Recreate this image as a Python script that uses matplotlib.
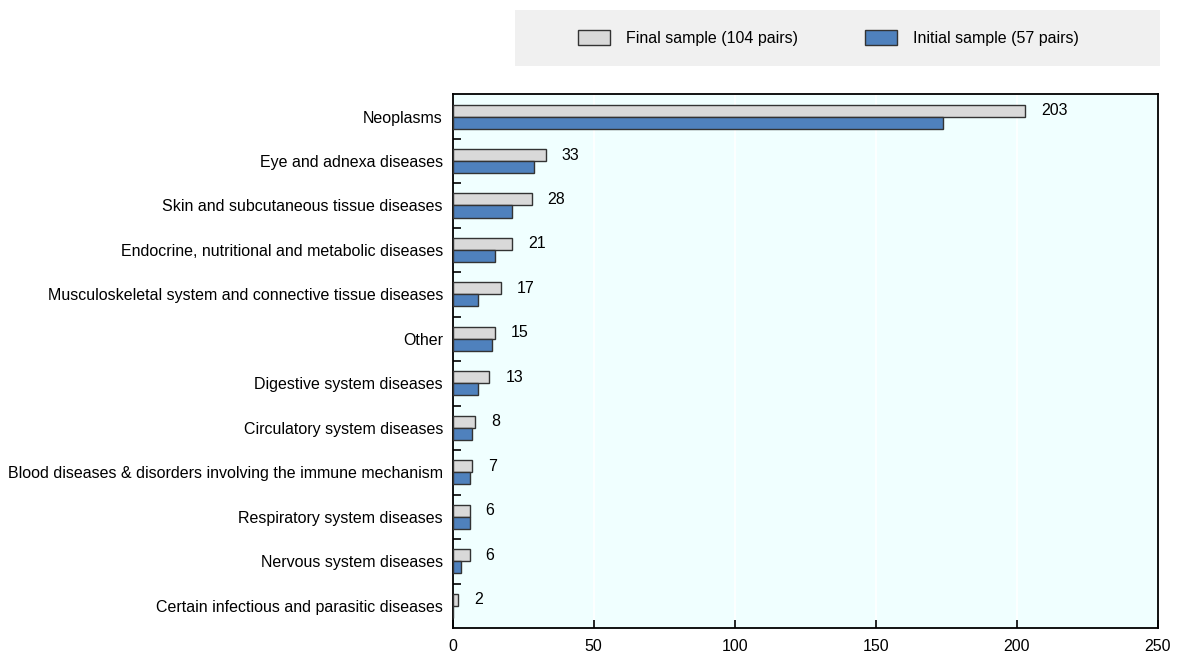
import numpy as np
import matplotlib.pyplot as plt
from matplotlib.patches import Rectangle, Patch

plt.rcParams['font.family'] = ['Liberation Sans Narrow', 'Liberation Sans', 'DejaVu Sans']

categories = [
    'Neoplasms',
    'Eye and adnexa diseases',
    'Skin and subcutaneous tissue diseases',
    'Endocrine, nutritional and metabolic diseases',
    'Musculoskeletal system and connective tissue diseases',
    'Other',
    'Digestive system diseases',
    'Circulatory system diseases',
    'Blood diseases & disorders involving the immune mechanism',
    'Respiratory system diseases',
    'Nervous system diseases',
    'Certain infectious and parasitic diseases',
]
final_sample = [203, 33, 28, 21, 17, 15, 13, 8, 7, 6, 6, 2]
initial_sample = [174, 29, 21, 15, 9, 14, 9, 7, 6, 6, 3, 0]
xticks = [0, 50, 100, 150, 200, 250]

gray = '#d9d9d9'
blue = '#4f81bd'
edge = '#333333'
fs = 11.5

fig = plt.figure(figsize=(11.78, 6.57), dpi=100)
ax = fig.add_axes([0.3843, 0.044, 0.5984, 0.8125])
ax.set_facecolor('#f0ffff')

y = np.arange(len(categories))
h = 0.27
ax.barh(y - h / 2, final_sample, height=h, color=gray, edgecolor=edge, linewidth=1, zorder=3)
ax.barh(y + h / 2, initial_sample, height=h, color=blue, edgecolor=edge, linewidth=1, zorder=3)

# value labels only for the final sample
for yi, v in zip(y, final_sample):
    ax.annotate(str(v), (v, yi - h / 2), xytext=(11.5, 0), textcoords='offset points',
                va='center', ha='left', fontsize=fs, zorder=4)

ax.set_ylim(len(categories) - 0.5, -0.5)
ax.set_xlim(0, 250)
ax.set_xticks(xticks)
ax.set_xticklabels([str(t) for t in xticks], fontsize=fs)
ax.set_yticks(y)
ax.set_yticklabels(categories, fontsize=fs)
ax.set_yticks(np.arange(len(categories) - 1) + 0.5, minor=True)

ax.tick_params(axis='y', which='major', length=0, pad=7)
ax.tick_params(axis='y', which='minor', direction='in', length=6, width=1.2, color='black')
ax.tick_params(axis='x', direction='in', length=6, width=1.2, pad=8)

ax.grid(axis='x', color='white', linewidth=1.2, zorder=1)
for s in ax.spines.values():
    s.set_color('black')
    s.set_linewidth(1.3)

# legend panel
fig.patches.append(Rectangle((515 / 1178, 1 - 66 / 657), 645 / 1178, 56 / 657,
                             transform=fig.transFigure, facecolor='#f0f0f0',
                             edgecolor='none', zorder=0))
handles = [Patch(facecolor=gray, edgecolor=edge, label='Final sample (104 pairs)'),
           Patch(facecolor=blue, edgecolor=edge, label='Initial sample (57 pairs)')]
fig.legend(handles=handles, loc='center', bbox_to_anchor=(828 / 1178, 1 - 38 / 657),
           ncol=2, frameon=False, fontsize=fs, handlelength=2.0, handleheight=1.1,
           handletextpad=1.0, columnspacing=4.2)

fig.savefig('out.png', dpi=100)
